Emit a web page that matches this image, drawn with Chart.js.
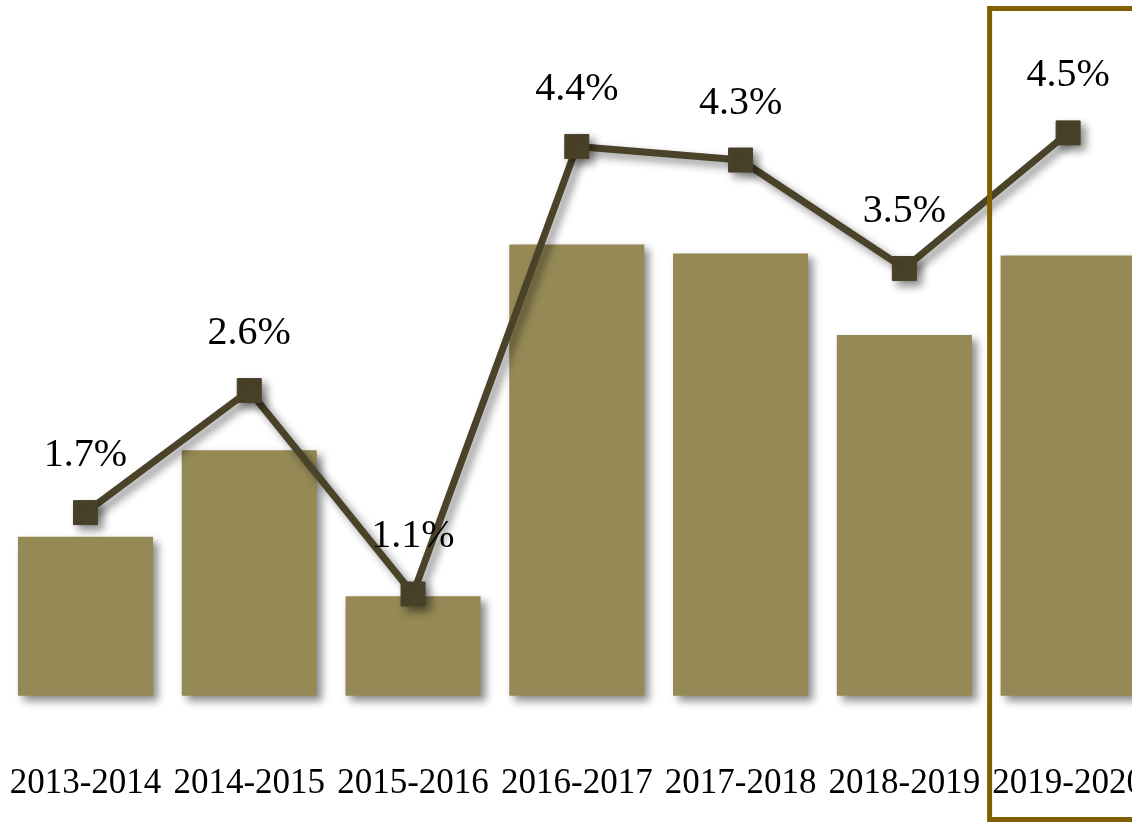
<!DOCTYPE html>
<html lang="en">
<head>
    <meta charset="UTF-8">
    <title>Growth by fiscal year</title>
    <script src="https://cdn.jsdelivr.net/npm/chart.js"></script>
    <style>
        html, body {
            margin: 0;
            padding: 0;
            background: #fff;
            overflow: hidden;
        }
        .chart-box {
            position: absolute;
            left: 0;
            top: 0;
            width: 1150px;
            height: 822px;
        }
    </style>
</head>
<body>
    <div class="chart-box">
        <canvas id="growthChart"></canvas>
    </div>

    <script>
        // data
        const years = ['2013-2014', '2014-2015', '2015-2016', '2016-2017', '2017-2018', '2018-2019', '2019-2020'];
        const barValues = [1.60, 2.47, 1.00, 4.54, 4.45, 3.63, 4.43];
        const rateValues = [1.7, 2.6, 1.1, 4.4, 4.3, 3.5, 4.5];
        const rateLabels = ['1.7%', '2.6%', '1.1%', '4.4%', '4.3%', '3.5%', '4.5%'];

        const barColor = '#958a55';
        const lineColor = '#4a4229';
        const boxColor = '#806000';

        // soft drop shadow under bars and line
        const shadowPlugin = {
            id: 'shadow',
            beforeDatasetsDraw(chart) {
                const c = chart.ctx;
                c.save();
                c.shadowColor = 'rgba(0,0,0,0.45)';
                c.shadowBlur = 8;
                c.shadowOffsetX = 5;
                c.shadowOffsetY = 5;
            },
            afterDatasetsDraw(chart) {
                chart.ctx.restore();
            }
        };

        // percent labels over the line points + highlight box on last year
        const labelPlugin = {
            id: 'rateLabels',
            afterDatasetsDraw(chart) {
                const c = chart.ctx;
                const meta = chart.getDatasetMeta(0);
                c.save();
                c.font = '40px "Liberation Serif", serif';
                c.fillStyle = '#000';
                c.textAlign = 'center';
                c.textBaseline = 'middle';
                meta.data.forEach((pt, i) => {
                    c.fillText(rateLabels[i], pt.x, pt.y - 57);
                });
                c.restore();
            },
            afterDraw(chart) {
                const c = chart.ctx;
                const x = chart.scales.x.getPixelForValue(years.length - 1) - 78.5;
                c.save();
                c.strokeStyle = boxColor;
                c.lineWidth = 5;
                c.strokeRect(x, 8.5, 400, 811);
                c.restore();
            }
        };

        new Chart(document.getElementById('growthChart'), {
            data: {
                labels: years,
                datasets: [
                    {
                        type: 'line',
                        data: rateValues,
                        yAxisID: 'y1',
                        order: 0,
                        clip: false,
                        borderColor: lineColor,
                        borderWidth: 7,
                        pointStyle: 'rect',
                        pointRadius: 17,
                        pointBackgroundColor: lineColor,
                        pointBorderColor: lineColor,
                        pointBorderWidth: 1,
                        tension: 0
                    },
                    {
                        type: 'bar',
                        data: barValues,
                        yAxisID: 'y',
                        order: 1,
                        clip: false,
                        backgroundColor: barColor,
                        categoryPercentage: 1,
                        barPercentage: 0.825
                    }
                ]
            },
            options: {
                responsive: true,
                maintainAspectRatio: false,
                animation: false,
                layout: {
                    autoPadding: false,
                    padding: { left: 3.6, right: 0, top: 0, bottom: 0 }
                },
                plugins: {
                    legend: { display: false },
                    tooltip: { enabled: false }
                },
                scales: {
                    x: {
                        grid: { display: false, drawTicks: false },
                        border: { display: false },
                        ticks: {
                            color: '#000',
                            font: { family: '"Liberation Serif", serif', size: 35 },
                            padding: 67,
                            autoSkip: false,
                            maxRotation: 0
                        },
                        afterFit(scale) {
                            // fixed axis band, and no extra room for the outer labels
                            scale.height = 126.3;
                            scale.paddingLeft = 0;
                            scale.paddingRight = 0;
                        }
                    },
                    y: {
                        display: false,
                        min: 0,
                        max: 7
                    },
                    y1: {
                        display: false,
                        min: 0.35,
                        max: 5.48
                    }
                }
            },
            plugins: [shadowPlugin, labelPlugin]
        });
    </script>
</body>
</html>
